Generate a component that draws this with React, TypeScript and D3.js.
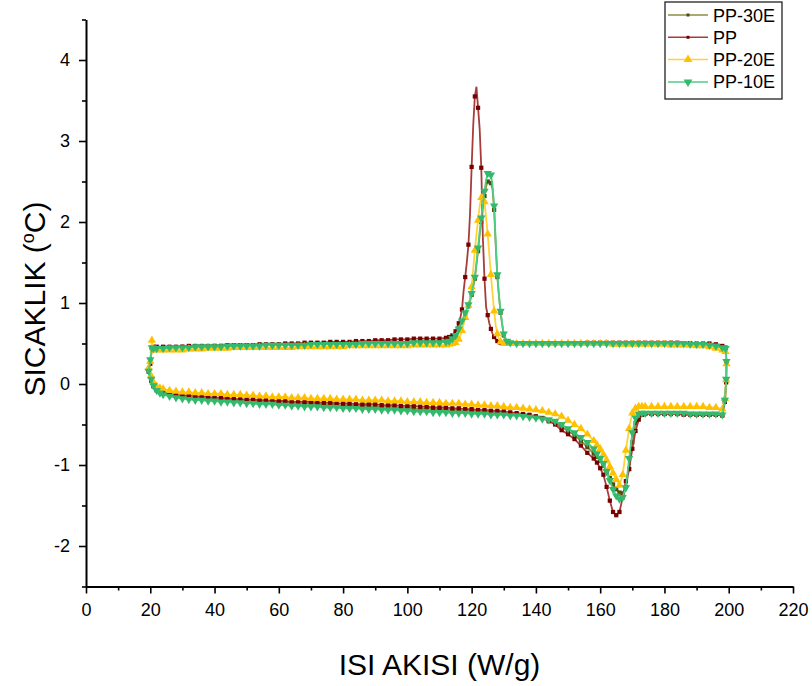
import React, { useEffect, useRef } from "react";
import * as d3 from "d3";

const W = 812;
const H = 686;
const margin = { top: 19.5, right: 19, bottom: 99.5, left: 86 };
const FONT = "'Liberation Sans', Arial, sans-serif";

// x ticks / y ticks
const X_MAJOR = [0, 20, 40, 60, 80, 100, 120, 140, 160, 180, 200, 220];
const X_MINOR = [10, 30, 50, 70, 90, 110, 130, 150, 170, 190, 210];
const Y_MAJOR = [-2, -1, 0, 1, 2, 3, 4];
const Y_MINOR = [-2.5, -1.5, -0.5, 0.5, 1.5, 2.5, 3.5, 4.5];

// lower branch (read left to right)
const LOW_T = [
  19.5, 20.3, 21, 22, 23, 24, 26, 28, 30, 32,
  34, 36, 38, 40, 42, 44, 46, 48, 50, 52,
  54, 56, 58, 60, 62, 64, 66, 68, 70, 72,
  74, 76, 78, 80, 82, 84, 86, 88, 90, 92,
  94, 96, 98, 100, 102, 104, 106, 108, 110, 112,
  114, 116, 118, 120, 122, 124, 126, 128, 130, 132,
  134, 136, 138, 140, 142, 144, 146, 148, 150, 152,
  154, 156, 158, 159, 160, 161, 162, 163, 164, 165,
  166, 167, 168, 169, 170, 171, 172, 173, 174, 176,
  178, 180, 182, 184, 186, 188, 190, 192, 194, 196,
  198,
];

const PP30E_LOW = [
  0.15, 0.04, -0.03, -0.08, -0.1, -0.11, -0.13, -0.14, -0.15, -0.16,
  -0.17, -0.17, -0.18, -0.18, -0.19, -0.19, -0.2, -0.2, -0.21, -0.21,
  -0.21, -0.22, -0.22, -0.23, -0.23, -0.23, -0.24, -0.24, -0.24, -0.25,
  -0.25, -0.25, -0.26, -0.26, -0.26, -0.27, -0.27, -0.27, -0.28, -0.28,
  -0.28, -0.29, -0.29, -0.29, -0.3, -0.3, -0.3, -0.31, -0.31, -0.31,
  -0.32, -0.32, -0.33, -0.33, -0.33, -0.34, -0.34, -0.35, -0.35, -0.36,
  -0.37, -0.38, -0.39, -0.4, -0.42, -0.45, -0.48, -0.53, -0.58, -0.63,
  -0.7, -0.78, -0.86, -0.9, -0.95, -1.01, -1.08, -1.16, -1.24, -1.3,
  -1.34, -1.35, -1.27, -1.05, -0.72, -0.48, -0.39, -0.37, -0.37, -0.37,
  -0.37, -0.37, -0.37, -0.37, -0.37, -0.37, -0.38, -0.38, -0.38, -0.38,
  -0.38,
];

const PP_LOW = [
  0.17, 0.05, -0.02, -0.07, -0.09, -0.1, -0.12, -0.13, -0.14, -0.14,
  -0.15, -0.16, -0.16, -0.17, -0.17, -0.18, -0.18, -0.19, -0.19, -0.19,
  -0.2, -0.2, -0.21, -0.21, -0.21, -0.22, -0.22, -0.22, -0.22, -0.23,
  -0.23, -0.23, -0.24, -0.24, -0.24, -0.25, -0.25, -0.25, -0.25, -0.26,
  -0.26, -0.26, -0.27, -0.27, -0.27, -0.28, -0.28, -0.29, -0.29, -0.29,
  -0.3, -0.3, -0.31, -0.31, -0.32, -0.32, -0.33, -0.33, -0.34, -0.35,
  -0.36, -0.37, -0.38, -0.4, -0.42, -0.46, -0.5, -0.57, -0.62, -0.68,
  -0.76, -0.85, -0.92, -0.97, -1.04, -1.12, -1.27, -1.44, -1.58, -1.62,
  -1.58, -1.4, -1.2, -1.05, -0.8, -0.58, -0.44, -0.38, -0.37, -0.37,
  -0.37, -0.37, -0.37, -0.37, -0.38, -0.38, -0.38, -0.38, -0.38, -0.38,
  -0.39,
];

const PP20E_LOW = [
  0.2, 0.1, 0.02, -0.03, -0.05, -0.06, -0.08, -0.09, -0.1, -0.1,
  -0.11, -0.11, -0.12, -0.12, -0.12, -0.13, -0.13, -0.13, -0.14, -0.14,
  -0.15, -0.15, -0.16, -0.16, -0.16, -0.17, -0.17, -0.17, -0.18, -0.18,
  -0.18, -0.18, -0.19, -0.19, -0.19, -0.19, -0.2, -0.2, -0.2, -0.2,
  -0.21, -0.21, -0.21, -0.22, -0.22, -0.22, -0.23, -0.23, -0.23, -0.24,
  -0.24, -0.24, -0.25, -0.25, -0.26, -0.26, -0.27, -0.27, -0.28, -0.29,
  -0.29, -0.3, -0.31, -0.32, -0.33, -0.35, -0.37, -0.4, -0.45, -0.5,
  -0.55, -0.62, -0.7, -0.75, -0.8, -0.87, -0.94, -1.02, -1.1, -1.18,
  -1.25, -1.12, -0.82, -0.55, -0.36, -0.3, -0.28, -0.28, -0.28, -0.28,
  -0.28, -0.28, -0.28, -0.28, -0.28, -0.28, -0.28, -0.28, -0.29, -0.29,
  -0.31,
];

const PP10E_LOW = [
  0.16, 0.06, -0.02, -0.08, -0.11, -0.13, -0.15, -0.17, -0.18, -0.19,
  -0.2, -0.2, -0.21, -0.21, -0.22, -0.22, -0.23, -0.23, -0.24, -0.24,
  -0.25, -0.25, -0.25, -0.26, -0.26, -0.27, -0.27, -0.28, -0.28, -0.28,
  -0.29, -0.29, -0.29, -0.3, -0.3, -0.3, -0.31, -0.31, -0.31, -0.32,
  -0.32, -0.32, -0.33, -0.33, -0.34, -0.34, -0.34, -0.35, -0.35, -0.35,
  -0.36, -0.36, -0.36, -0.37, -0.37, -0.37, -0.38, -0.38, -0.38, -0.39,
  -0.39, -0.4, -0.41, -0.42, -0.43, -0.44, -0.46, -0.5, -0.55, -0.6,
  -0.66, -0.72, -0.8, -0.86, -0.92, -0.98, -1.08, -1.19, -1.3, -1.38,
  -1.42, -1.4, -1.28, -0.92, -0.6, -0.42, -0.37, -0.36, -0.36, -0.36,
  -0.36, -0.36, -0.36, -0.36, -0.36, -0.37, -0.37, -0.37, -0.37, -0.37,
  -0.38,
];

// right edge, going up
const EDGE_T = [198.8, 199.2, 199.3, 199.0];
const PP30E_EDGE = [-0.22, 0.04, 0.27, 0.44];
const PP_EDGE = [-0.22, 0.02, 0.27, 0.45];
const PP20E_EDGE = [-0.18, 0.05, 0.25, 0.4];
const PP10E_EDGE = [-0.2, 0.06, 0.28, 0.44];

// upper branch (listed left to right, drawn right to left)
const UP_T = [
  20, 20.5, 21, 22, 24, 26, 28, 30, 32, 34,
  36, 38, 40, 42, 44, 46, 48, 50, 52, 54,
  56, 58, 60, 62, 64, 66, 68, 70, 72, 74,
  76, 78, 80, 82, 84, 86, 88, 90, 92, 94,
  96, 98, 100, 102, 104, 106, 108, 110, 112, 113,
  114, 115, 116, 116.5, 117, 117.5, 118, 118.5, 119, 119.5,
  120, 120.5, 121, 121.5, 122, 122.5, 123, 123.5, 124, 124.5,
  125, 125.5, 126, 126.5, 127, 127.5, 128, 128.5, 129, 129.5,
  130, 131, 132, 134, 136, 138, 140, 142, 144, 146,
  148, 150, 152, 154, 156, 158, 160, 162, 164, 166,
  168, 170, 172, 174, 176, 178, 180, 182, 184, 186,
  188, 190, 192, 194, 196, 198,
];

const PP30E_UP = [
  0.28, 0.45, 0.45, 0.45, 0.45, 0.45, 0.45, 0.46, 0.46, 0.46,
  0.46, 0.46, 0.47, 0.47, 0.47, 0.47, 0.47, 0.48, 0.48, 0.48,
  0.48, 0.48, 0.48, 0.49, 0.49, 0.49, 0.49, 0.49, 0.5, 0.5,
  0.5, 0.5, 0.5, 0.5, 0.5, 0.5, 0.51, 0.51, 0.51, 0.51,
  0.51, 0.51, 0.51, 0.52, 0.52, 0.52, 0.52, 0.52, 0.53, 0.54,
  0.55, 0.59, 0.66, 0.72, 0.76, 0.81, 0.86, 0.91, 0.96, 1.02,
  1.1, 1.2, 1.3, 1.47, 1.64, 1.84, 2.0, 2.18, 2.32, 2.44,
  2.5, 2.5, 2.48, 2.4, 2.15, 1.7, 1.32, 1.08, 0.88, 0.73,
  0.6, 0.52, 0.5, 0.5, 0.5, 0.5, 0.5, 0.5, 0.5, 0.5,
  0.5, 0.5, 0.5, 0.5, 0.5, 0.5, 0.5, 0.5, 0.5, 0.5,
  0.5, 0.5, 0.5, 0.5, 0.5, 0.5, 0.5, 0.5, 0.5, 0.5,
  0.5, 0.49, 0.49, 0.48, 0.47, 0.45,
];

const PP_UP = [
  0.25, 0.44, 0.46, 0.46, 0.46, 0.46, 0.46, 0.46, 0.47, 0.47,
  0.47, 0.47, 0.47, 0.47, 0.48, 0.48, 0.48, 0.48, 0.48, 0.49,
  0.49, 0.49, 0.49, 0.5, 0.5, 0.5, 0.51, 0.51, 0.51, 0.51,
  0.52, 0.52, 0.52, 0.52, 0.53, 0.53, 0.53, 0.54, 0.54, 0.54,
  0.55, 0.55, 0.55, 0.56, 0.56, 0.56, 0.56, 0.56, 0.57, 0.58,
  0.6, 0.65, 0.75, 0.82, 0.92, 1.15, 1.32, 1.5, 1.72, 2.1,
  2.68, 3.2, 3.55, 3.67, 3.41, 3.15, 2.67, 1.8, 1.3, 0.95,
  0.85, 0.75, 0.68, 0.62, 0.58, 0.55, 0.53, 0.52, 0.51, 0.51,
  0.5, 0.5, 0.5, 0.5, 0.5, 0.5, 0.5, 0.5, 0.5, 0.5,
  0.5, 0.5, 0.5, 0.5, 0.51, 0.51, 0.51, 0.51, 0.51, 0.51,
  0.51, 0.51, 0.51, 0.51, 0.51, 0.51, 0.51, 0.51, 0.51, 0.5,
  0.5, 0.5, 0.5, 0.5, 0.49, 0.47,
];

const PP20E_UP = [
  0.28, 0.54, 0.42, 0.42, 0.42, 0.42, 0.42, 0.42, 0.43, 0.43,
  0.43, 0.44, 0.44, 0.44, 0.44, 0.45, 0.45, 0.45, 0.45, 0.45,
  0.45, 0.45, 0.45, 0.45, 0.45, 0.46, 0.46, 0.46, 0.46, 0.46,
  0.46, 0.46, 0.46, 0.47, 0.47, 0.47, 0.47, 0.47, 0.47, 0.47,
  0.47, 0.47, 0.47, 0.48, 0.48, 0.48, 0.48, 0.48, 0.48, 0.49,
  0.5, 0.51, 0.55, 0.6, 0.66, 0.74, 0.82, 0.9, 0.97, 1.05,
  1.2, 1.42, 1.65, 1.85, 2.02, 2.2, 2.3, 2.33, 2.25, 2.05,
  1.85, 1.6, 1.35, 1.12, 0.9, 0.72, 0.62, 0.55, 0.52, 0.51,
  0.5, 0.5, 0.5, 0.5, 0.5, 0.5, 0.5, 0.5, 0.5, 0.5,
  0.5, 0.5, 0.5, 0.5, 0.5, 0.5, 0.5, 0.5, 0.49, 0.49,
  0.49, 0.49, 0.49, 0.49, 0.49, 0.49, 0.49, 0.48, 0.48, 0.48,
  0.48, 0.47, 0.47, 0.46, 0.44, 0.42,
];

const PP10E_UP = [
  0.3, 0.45, 0.44, 0.44, 0.44, 0.45, 0.45, 0.45, 0.45, 0.46,
  0.46, 0.46, 0.46, 0.46, 0.47, 0.47, 0.47, 0.47, 0.47, 0.47,
  0.48, 0.48, 0.48, 0.48, 0.48, 0.48, 0.48, 0.49, 0.49, 0.49,
  0.49, 0.49, 0.49, 0.49, 0.49, 0.5, 0.5, 0.5, 0.5, 0.5,
  0.5, 0.5, 0.5, 0.51, 0.51, 0.51, 0.51, 0.51, 0.52, 0.53,
  0.56, 0.6, 0.68, 0.74, 0.78, 0.83, 0.88, 0.93, 0.98, 1.04,
  1.12, 1.22, 1.32, 1.5, 1.68, 1.88, 2.05, 2.22, 2.38, 2.52,
  2.6, 2.6, 2.58, 2.45, 2.2, 1.75, 1.35, 1.1, 0.9, 0.75,
  0.62, 0.53, 0.51, 0.5, 0.5, 0.5, 0.5, 0.5, 0.5, 0.5,
  0.5, 0.5, 0.5, 0.5, 0.5, 0.5, 0.5, 0.5, 0.5, 0.5,
  0.5, 0.5, 0.5, 0.5, 0.5, 0.5, 0.5, 0.5, 0.5, 0.5,
  0.49, 0.49, 0.49, 0.48, 0.47, 0.45,
];

const series = [
  { name: "PP-30E", line: "#8c8c44", mark: "#4f4f0a", shape: "square", low: PP30E_LOW, edge: PP30E_EDGE, up: PP30E_UP },
  { name: "PP", line: "#a83c3c", mark: "#7a0000", shape: "square", low: PP_LOW, edge: PP_EDGE, up: PP_UP },
  { name: "PP-20E", line: "#ffd23c", mark: "#ffc000", shape: "up", low: PP20E_LOW, edge: PP20E_EDGE, up: PP20E_UP },
  { name: "PP-10E", line: "#4ccf84", mark: "#34b86c", shape: "down", low: PP10E_LOW, edge: PP10E_EDGE, up: PP10E_UP },
];

type Pt = { t: number; v: number; m: boolean };

function buildPoints(s: (typeof series)[number]): Pt[] {
  const pts: Pt[] = [];
  LOW_T.forEach((t, i) => pts.push({ t, v: s.low[i], m: true }));
  EDGE_T.forEach((t, i) => pts.push({ t, v: s.edge[i], m: true }));
  for (let i = UP_T.length - 1; i >= 0; i--) {
    const t = UP_T[i];
    const skip = t >= 114 && t <= 130 && t % 1 !== 0;
    pts.push({ t, v: s.up[i], m: !skip });
  }
  pts.push({ ...pts[0], m: false });
  return pts;
}

function markerPath(shape: string, size: number) {
  if (shape === "square") return d3.symbol().type(d3.symbolSquare).size(size)()!;
  return d3.symbol().type(d3.symbolTriangle).size(size * 1.5)()!;
}

export default function App() {
  const xAxisRef = useRef<SVGGElement>(null);
  const xMinorRef = useRef<SVGGElement>(null);
  const yAxisRef = useRef<SVGGElement>(null);
  const yMinorRef = useRef<SVGGElement>(null);

  const x = d3.scaleLinear().domain([0, 220]).range([margin.left, W - margin.right]);
  const y = d3.scaleLinear().domain([-2.5, 4.5]).range([H - margin.bottom, margin.top]);

  const line = d3
    .line<Pt>()
    .x((d) => x(d.t))
    .y((d) => y(d.v));

  useEffect(() => {
    const fmt = (d: d3.NumberValue) => String(d);
    const xa = d3.select(xAxisRef.current!);
    xa.call(d3.axisBottom(x).tickValues(X_MAJOR).tickSize(7).tickSizeOuter(0).tickPadding(10).tickFormat(fmt));
    const xm = d3.select(xMinorRef.current!);
    xm.call(d3.axisBottom(x).tickValues(X_MINOR).tickSize(4).tickFormat(() => ""));
    xm.select(".domain").remove();

    const ya = d3.select(yAxisRef.current!);
    ya.call(d3.axisLeft(y).tickValues(Y_MAJOR).tickSize(7).tickSizeOuter(0).tickPadding(9).tickFormat(fmt));
    const ym = d3.select(yMinorRef.current!);
    ym.call(d3.axisLeft(y).tickValues(Y_MINOR).tickSize(4).tickFormat(() => ""));
    ym.select(".domain").remove();

    [xa, ya].forEach((g) => {
      g.select(".domain").attr("stroke", "#000").attr("stroke-width", 2);
      g.selectAll(".tick line").attr("stroke", "#000").attr("stroke-width", 1.6);
      g.selectAll(".tick text").attr("font-family", FONT).attr("font-size", 18).attr("fill", "#000");
    });
    [xm, ym].forEach((g) => g.selectAll(".tick line").attr("stroke", "#000").attr("stroke-width", 1.6));
  }, []);

  const baseY = H - margin.bottom;

  return (
    <svg width={W} height={H} style={{ position: "absolute", left: 0, top: 0, background: "#fff" }}>
      <rect width={W} height={H} fill="#fff" />
      {series.map((s) => {
        const pts = buildPoints(s);
        const mp = markerPath(s.shape, s.shape === "square" ? 18 : 20);
        return (
          <g key={s.name}>
            <path d={line(pts)!} fill="none" stroke={s.line} strokeWidth={1.8} />
            {pts
              .filter((p) => p.m)
              .map((p, i) => (
                <path
                  key={i}
                  d={mp}
                  fill={s.mark}
                  transform={`translate(${x(p.t)},${y(p.v)})${s.shape === "down" ? " rotate(180)" : ""}`}
                />
              ))}
          </g>
        );
      })}

      <g ref={xMinorRef} transform={`translate(0,${baseY})`} />
      <g ref={yMinorRef} transform={`translate(${margin.left},0)`} />
      <g ref={xAxisRef} transform={`translate(0,${baseY})`} />
      <g ref={yAxisRef} transform={`translate(${margin.left},0)`} />

      <text x={(margin.left + W - margin.right) / 2} y={675} textAnchor="middle" fontFamily={FONT} fontSize={30}>
        ISI AKISI (W/g)
      </text>
      <text
        transform={`translate(45,${(margin.top + baseY) / 2 - 4}) rotate(-90)`}
        textAnchor="middle"
        fontFamily={FONT}
        fontSize={30}
      >
        SICAKLIK (<tspan fontSize={18} dy={-11}>o</tspan>
        <tspan dy={11}>C)</tspan>
      </text>

      <g>
        <rect x={665} y={2} width={117} height={97} fill="#fff" stroke="#222" strokeWidth={1.3} />
        {series.map((s, i) => {
          const cy = 15 + i * 22.3;
          return (
            <g key={s.name}>
              <line x1={668} x2={708} y1={cy} y2={cy} stroke={s.line} strokeWidth={1.5} />
              <path
                d={markerPath(s.shape, s.shape === "square" ? 9 : 22)}
                fill={s.mark}
                transform={`translate(688,${cy})${s.shape === "down" ? " rotate(180)" : ""}`}
              />
              <text x={713} y={cy + 6.5} fontFamily={FONT} fontSize={18} fill="#000">
                {s.name}
              </text>
            </g>
          );
        })}
      </g>
    </svg>
  );
}
